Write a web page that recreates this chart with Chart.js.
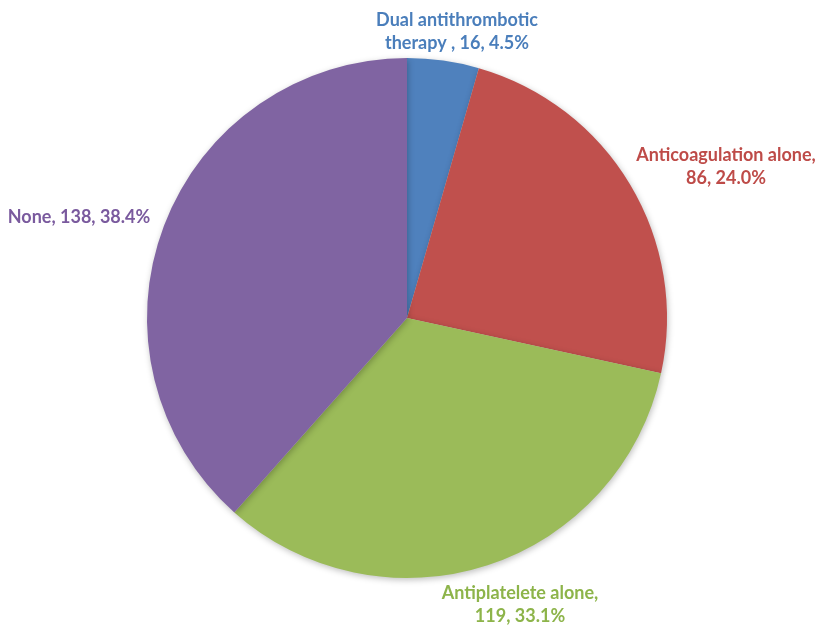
<!DOCTYPE html>
<html>
<head>
<meta charset="utf-8">
<script src="https://cdn.jsdelivr.net/npm/chart.js@4"></script>
<style>
html,body{margin:0;padding:0;background:#fff;}
#wrap{width:829px;height:639px;}
</style>
</head>
<body>
<div id="wrap"><canvas id="c" width="829" height="639"></canvas></div>
<script>
const categories = ["Dual antithrombotic therapy", "Anticoagulation alone", "Antiplatelete alone", "None"];
const counts = [16, 86, 119, 138];
const percents = ["4.5%", "24.0%", "33.1%", "38.4%"];
const labelLines = [
  ["Dual antithrombotic", "therapy , 16, 4.5%"],
  ["Anticoagulation alone,", "86, 24.0%"],
  ["Antiplatelete alone,", "119, 33.1%"],
  ["None, 138, 38.4%"]
];
const colors = ["#4F81BD", "#C0504D", "#9BBB59", "#8064A2"];
const textColors = ["#4A7EBB", "#BE4B48", "#8DB44A", "#7A5A9E"];

const labelPlugin = {
  id: 'outLabels',
  afterDatasetsDraw(chart, args, opts) {
    const ctx = chart.ctx;
    ctx.save();
    ctx.font = opts.font;
    ctx.textAlign = 'center';
    ctx.textBaseline = 'middle';
    opts.positions.forEach((p, i) => {
      ctx.fillStyle = textColors[i];
      labelLines[i].forEach((line, j) => {
        ctx.fillText(line, p[0], p[1] + j * opts.lineHeight);
      });
    });
    ctx.restore();
  }
};

const shadowPlugin = {
  id: 'pieShadow',
  beforeDatasetsDraw(chart) {
    const ctx = chart.ctx;
    ctx.save();
    ctx.shadowColor = 'rgba(0,0,0,0.25)';
    ctx.shadowBlur = 6;
    ctx.shadowOffsetX = 1;
    ctx.shadowOffsetY = 2;
  },
  afterDatasetsDraw(chart) {
    chart.ctx.restore();
  }
};

new Chart(document.getElementById('c'), {
  type: 'pie',
  data: {
    labels: categories,
    datasets: [{
      data: counts,
      backgroundColor: colors,
      borderWidth: 0,
      hoverOffset: 0
    }]
  },
  options: {
    responsive: false,
    animation: false,
    events: [],
    layout: { padding: { left: 147, right: 162, top: 58, bottom: 61 } },
    plugins: {
      legend: { display: false },
      tooltip: { enabled: false },
      outLabels: {
        font: 'bold 18px Lato, "Open Sans", sans-serif',
        lineHeight: 23,
        positions: [[457, 20], [726, 155], [520, 593], [79, 217]]
      }
    }
  },
  plugins: [shadowPlugin, labelPlugin]
});
</script>
</body>
</html>
